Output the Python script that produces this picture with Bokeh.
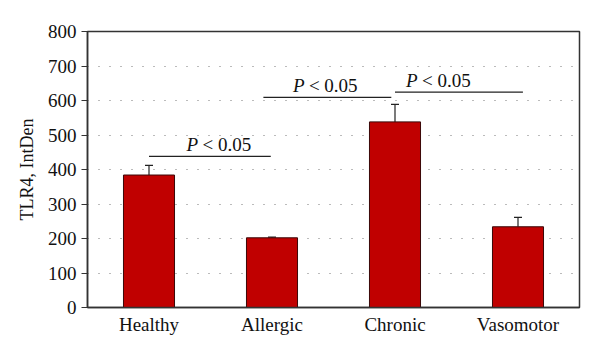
from bokeh.plotting import figure
from bokeh.models import ColumnDataSource, Range1d, FixedTicker, Whisker, TeeHead
from bokeh.core.properties import value
from bokeh.embed import file_html
from bokeh.resources import INLINE

categories = ["Healthy", "Allergic", "Chronic", "Vasomotor"]
means = [384, 202, 538, 234]
errors = [28, 2, 51, 27]
y_ticks = [0, 100, 200, 300, 400, 500, 600, 700, 800]

# significance brackets: (x start, x end, height) in category units, text centre
sig_x0 = [0.5, 1.43, 2.5]
sig_x1 = [1.49, 2.47, 3.54]
sig_y = [438, 609, 624]
sig_tx = [1.065, 1.93, 2.85]
sig_label = ["< 0.05", "< 0.05", "< 0.05"]

FONT = "Liberation Serif"
FS = "19px"

xpos = [i + 0.5 for i in range(len(categories))]
src = ColumnDataSource(dict(x=xpos, top=means,
                            up=[m + e for m, e in zip(means, errors)]))

p = figure(width=600, height=353, output_backend="svg", toolbar_location=None,
           x_range=Range1d(0, 4), y_range=Range1d(0, 800),
           min_border_left=87, min_border_right=21, min_border_top=31,
           min_border_bottom=46)
p.background_fill_color = "white"
p.border_fill_color = "white"
p.outline_line_color = "#333333"
p.outline_line_width = 1.5

p.xgrid.visible = False
p.ygrid.grid_line_color = "#777777"
p.ygrid.grid_line_dash = "1 10"
p.ygrid.grid_line_width = 1.2

p.vbar(x="x", top="top", width=0.415, bottom=0, source=src,
       fill_color="#C00000", line_color="#3a0808", line_width=1)

w = Whisker(base="x", lower="top", upper="up", source=src,
            line_color="#222222", line_width=1.2,
            upper_head=TeeHead(size=8, line_color="#222222", line_width=1.2),
            lower_head=None)
p.add_layout(w)

p.segment(x0=sig_x0, x1=sig_x1, y0=sig_y, y1=sig_y, line_color="#222222", line_width=1.3)
p.text(x=sig_tx, y=sig_y, text=["P"] * 3, text_font=value(FONT), text_font_style="italic",
       text_font_size=FS, text_align="left", text_baseline="bottom",
       x_offset=-32, y_offset=-1, text_color="#111111")
p.text(x=sig_tx, y=sig_y, text=sig_label, text_font=value(FONT),
       text_font_size=FS, text_align="left", text_baseline="bottom",
       x_offset=-16, y_offset=-1, text_color="#111111")

p.yaxis.ticker = FixedTicker(ticks=y_ticks)
p.yaxis.minor_tick_line_color = None
p.yaxis.major_tick_out = 6
p.yaxis.major_tick_in = 0
p.yaxis.axis_line_color = "#333333"
p.yaxis.axis_line_width = 1.5
p.yaxis.major_tick_line_color = "#333333"
p.yaxis.major_label_text_font = FONT
p.yaxis.major_label_text_font_size = FS
p.yaxis.major_label_text_color = "#111111"
p.yaxis.major_label_standoff = 5
p.yaxis.axis_label = "TLR4, IntDen"
p.yaxis.axis_label_text_font = FONT
p.yaxis.axis_label_text_font_size = "18px"
p.yaxis.axis_label_text_font_style = "normal"
p.yaxis.axis_label_text_color = "#111111"
p.yaxis.axis_label_standoff = 8

p.xaxis.ticker = FixedTicker(ticks=xpos)
p.xaxis.major_label_overrides = {x: c for x, c in zip(xpos, categories)}
p.xaxis.minor_tick_line_color = None
p.xaxis.major_tick_line_color = None
p.xaxis.major_tick_out = 0
p.xaxis.major_tick_in = 0
p.xaxis.axis_line_color = "#333333"
p.xaxis.axis_line_width = 1.5
p.xaxis.major_label_text_font = FONT
p.xaxis.major_label_text_font_size = FS
p.xaxis.major_label_text_color = "#111111"
p.xaxis.major_label_standoff = 6

open("out.html", "w").write(file_html(p, INLINE))
